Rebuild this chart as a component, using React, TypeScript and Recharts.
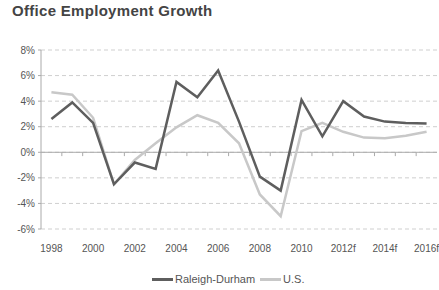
import { LineChart, Line, XAxis, YAxis, CartesianGrid, ReferenceLine } from "recharts";

const YEARS = ["1998", "1999", "2000", "2001", "2002", "2003", "2004", "2005", "2006", "2007", "2008", "2009", "2010", "2011", "2012f", "2013f", "2014f", "2015f", "2016f"];
const RALEIGH = [2.6, 3.9, 2.3, -2.5, -0.8, -1.3, 5.5, 4.3, 6.4, 2.4, -1.9, -3.0, 4.1, 1.25, 4.0, 2.8, 2.4, 2.3, 2.25];
const US = [4.7, 4.5, 2.7, -2.5, -0.6, 0.7, 1.95, 2.9, 2.3, 0.7, -3.3, -5.0, 1.65, 2.3, 1.6, 1.15, 1.1, 1.3, 1.6];
const Y_TICKS = [-6, -4, -2, 0, 2, 4, 6, 8];
const X_TICKS = [0, 2, 4, 6, 8, 10, 12, 14, 16, 18];

const DARK = "#5e5e5e";
const LIGHT = "#c8c8c8";
const FONT = "'Liberation Sans', Arial, sans-serif";

const data = YEARS.map((y, i) => ({ i, year: y, raleigh: RALEIGH[i], us: US[i] }));
// category boundaries for the small tick marks on the 0% line
const boundaries = YEARS.slice(1).map((_y, i) => i + 0.5);

export default function App() {
  return (
    <div style={{ position: "absolute", left: 0, top: 0, width: 439, height: 290, background: "#fff", fontFamily: FONT }}>
      <div style={{ position: "absolute", left: 12, top: 2, fontSize: 15, fontWeight: "bold", color: "#444", letterSpacing: 0.3 }}>
        Office Employment Growth
      </div>
      <LineChart width={439} height={290} data={data} margin={{ top: 50, right: 2, left: 0, bottom: 31 }}>
        <CartesianGrid vertical={false} stroke="#cfcfcf" strokeDasharray="4 3" />
        <XAxis
          dataKey="i"
          type="number"
          domain={[-0.5, 18.5]}
          ticks={X_TICKS}
          tickFormatter={(v: number) => YEARS[v] ?? ""}
          axisLine={false}
          tickLine={false}
          tickMargin={10}
          tick={{ fill: "#555", fontSize: 10, fontFamily: FONT }}
          height={30}
        />
        <YAxis
          domain={[-6, 8]}
          ticks={Y_TICKS}
          tickFormatter={(v: number) => `${v}%`}
          axisLine={{ stroke: "#aaa" }}
          tickLine={{ stroke: "#aaa" }}
          tickSize={3}
          tickMargin={3}
          width={41}
          tick={{ fill: "#555", fontSize: 10, fontFamily: FONT }}
        />
        <ReferenceLine y={0} stroke="#aaa" />
        {boundaries.map((b) => (
          <ReferenceLine key={b} segment={[{ x: b, y: 0 }, { x: b, y: -0.3 }]} stroke="#aaa" />
        ))}
        <Line dataKey="us" stroke={LIGHT} strokeWidth={2.5} dot={false} isAnimationActive={false} />
        <Line dataKey="raleigh" stroke={DARK} strokeWidth={2.5} dot={false} isAnimationActive={false} />
      </LineChart>
      <div style={{ position: "absolute", left: 152, top: 273, display: "flex", alignItems: "center", fontSize: 11, color: "#555" }}>
        <span style={{ display: "inline-block", width: 21, height: 3, background: DARK, marginRight: 2 }} />
        <span>Raleigh-Durham</span>
        <span style={{ display: "inline-block", width: 21, height: 3, background: LIGHT, marginLeft: 5, marginRight: 2 }} />
        <span>U.S.</span>
      </div>
    </div>
  );
}
